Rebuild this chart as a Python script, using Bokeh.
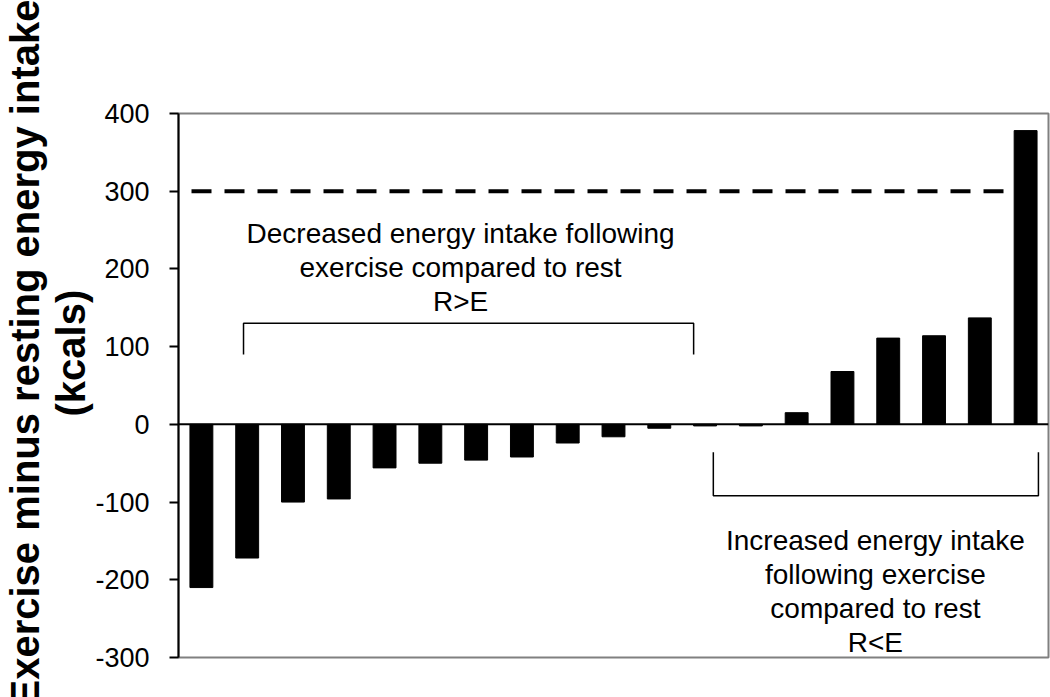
from bokeh.plotting import figure
from bokeh.models import Span, Title, FixedTicker, Range1d, PrintfTickFormatter
from bokeh.embed import file_html
from bokeh.resources import INLINE
from bokeh.core.properties import value

# ---- data ----
participants = list(range(1, 20))
diff_kcal = [-210, -172, -100, -96, -56, -50, -46, -42, -24, -16, -5,
             -2, -2, 15, 68, 111, 114, 137, 378]
y_ticks = [-300, -200, -100, 0, 100, 200, 300, 400]
threshold = 300
decreased_lines = ["Decreased energy intake following",
                   "exercise compared to rest", "R>E"]
increased_lines = ["Increased energy intake", "following exercise",
                   "compared to rest", "R<E"]
y_title_1 = "Exercise minus resting energy intake"
y_title_2 = "(kcals)"

FONT = "Liberation Sans"

p = figure(width=1050, height=697, output_backend="svg", toolbar_location=None,
           title=None,
           x_range=Range1d(0.5, 19.5), y_range=Range1d(-300, 400),
           min_border_left=178, min_border_right=2,
           min_border_top=113, min_border_bottom=40)

p.background_fill_color = "white"
p.border_fill_color = "white"
p.outline_line_color = "#808080"
p.outline_line_width = 2
p.xgrid.visible = False
p.ygrid.visible = False
p.xaxis.visible = False

ya = p.yaxis[0]
ya.ticker = FixedTicker(ticks=y_ticks)
ya.formatter = PrintfTickFormatter(format="%d")
ya.axis_line_color = "black"
ya.axis_line_width = 2
ya.major_tick_line_color = "black"
ya.major_tick_line_width = 2
ya.major_tick_out = 9
ya.major_tick_in = 0
ya.minor_tick_line_color = None
ya.major_label_text_font = FONT
ya.major_label_text_font_size = "27px"
ya.major_label_text_color = "black"
ya.major_label_standoff = 20

# bars
p.vbar(x=participants, top=diff_kcal, bottom=0, width=0.5,
       fill_color="black", line_color="black")

# zero line and threshold line
p.add_layout(Span(location=0, dimension="width", line_color="black",
                  line_width=2))
p.add_layout(Span(location=threshold, dimension="width", line_color="black",
                  line_width=4, line_dash="20 13", line_dash_offset=20))

# brackets
p.line(x=[1.92, 1.92, 11.75, 11.75], y=[90, 130, 130, 90],
       line_color="black", line_width=1.5)
p.line(x=[12.18, 12.18, 19.28, 19.28], y=[-36, -92, -92, -36],
       line_color="black", line_width=1.5)

# annotation texts
p.text(x=[6.66] * 3, y=[245.4, 201.7, 157.9], text=decreased_lines,
       text_font=value(FONT), text_font_size="28px", text_color="black",
       text_align="center", text_baseline="alphabetic")
p.text(x=[15.72] * 4, y=[-149.4, -193.2, -236.9, -280.6], text=increased_lines,
       text_font=value(FONT), text_font_size="28px", text_color="black",
       text_align="center", text_baseline="alphabetic")

# y-axis title (two lines, as stacked side titles)
p.add_layout(Title(text=y_title_2, align="left", offset=241,
                   text_font=FONT, text_font_size="40px",
                   text_font_style="bold", text_color="black",
                   standoff=0), "left")
p.add_layout(Title(text=y_title_1, align="left", offset=-49,
                   text_font=FONT, text_font_size="40px",
                   text_font_style="bold", text_color="black",
                   standoff=0), "left")

open("out.html", "w").write(file_html(p, INLINE))
